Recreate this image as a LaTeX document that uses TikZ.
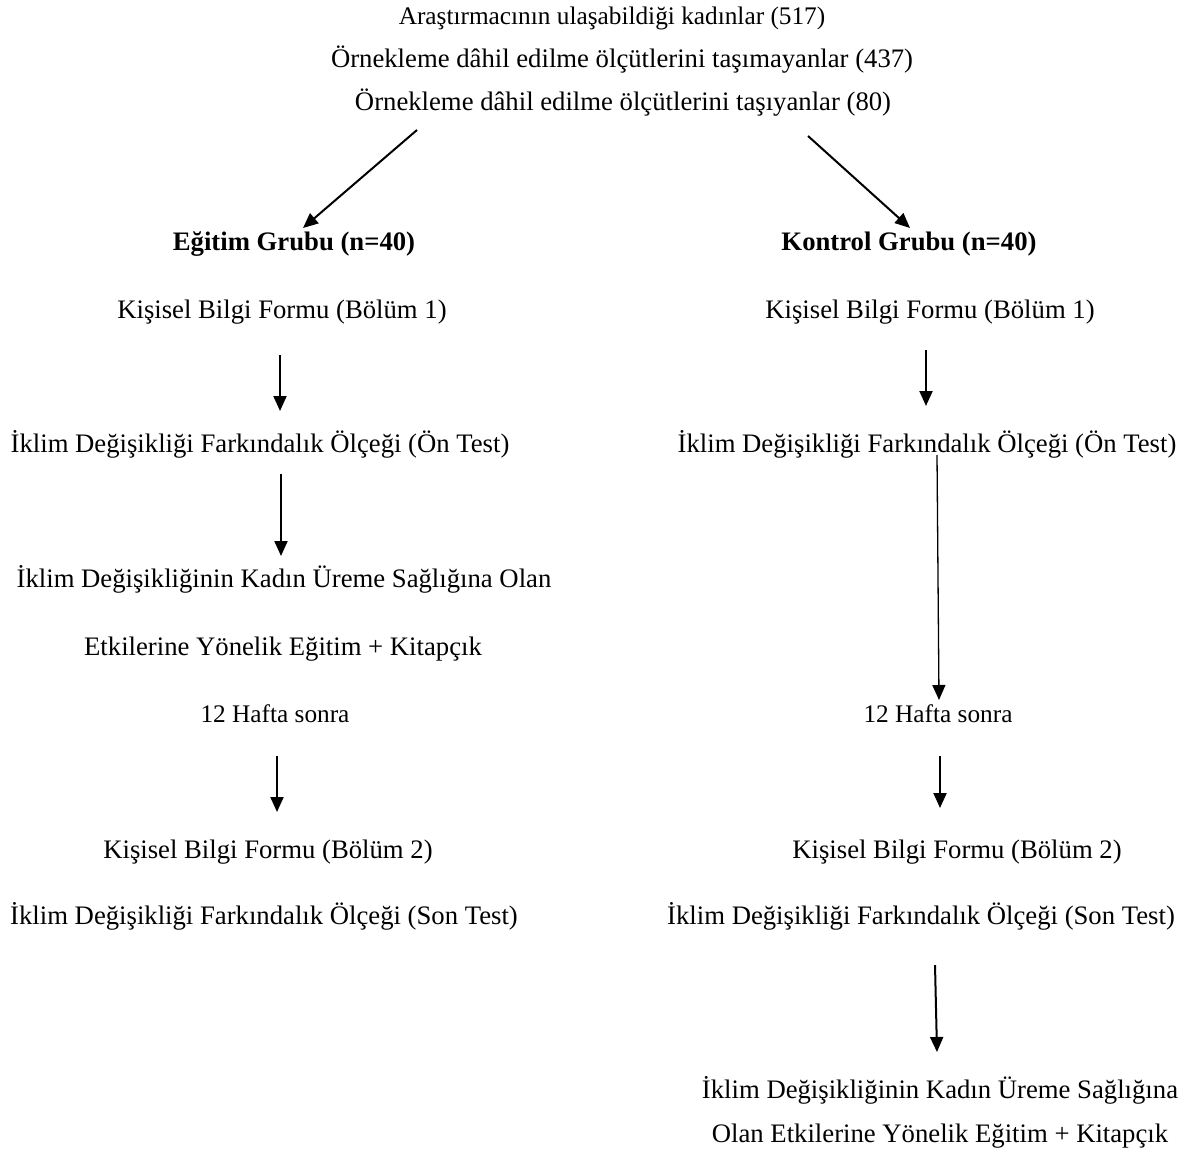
\documentclass[tikz,border=0pt]{standalone}
\usepackage{fontspec}
\setmainfont{Liberation Serif}
\usetikzlibrary{arrows.meta}

\tikzset{
    txt/.style={inner sep=0pt, anchor=base, font=\fontsize{13.35}{15}\selectfont},
    arr/.style={-{Triangle[width=6.5pt, length=7.5pt]}, line width=1pt},
    thinarr/.style={-{Triangle[width=6.5pt, length=7.5pt]}, line width=0.65pt}
}

\begin{document}
\begin{tikzpicture}[x=0.5pt, y=-0.5pt]
    \useasboundingbox (0,0) rectangle (1192,1160);

    % Örneklem
    \node[txt, font=\fontsize{12.65}{15}\selectfont] (top1) at (612,25) {Araştırmacının ulaşabildiği kadınlar (517)};
    \node[txt] (top2) at (622,68) {Örnekleme dâhil edilme ölçütlerini taşımayanlar (437)};
    \node[txt] (top3) at (623,111) {Örnekleme dâhil edilme ölçütlerini taşıyanlar (80)};

    % Eğitim grubu
    \node[txt, font=\fontsize{13.35}{15}\selectfont\bfseries] (grpE) at (294,251) {Eğitim Grubu (n=40)};
    \node[txt] (kbE1) at (282,319) {Kişisel Bilgi Formu (Bölüm 1)};
    \node[txt] (onE) at (260,452) {İklim Değişikliği Farkındalık Ölçeği (Ön Test)};
    \node[txt] (egtE1) at (284,587) {İklim Değişikliğinin Kadın Üreme Sağlığına Olan};
    \node[txt] (egtE2) at (283,655) {Etkilerine Yönelik Eğitim + Kitapçık};
    \node[txt, font=\fontsize{12.65}{15}\selectfont] (hftE) at (275,722) {12 Hafta sonra};
    \node[txt] (kbE2) at (268,858) {Kişisel Bilgi Formu (Bölüm 2)};
    \node[txt] (sonE) at (264,924) {İklim Değişikliği Farkındalık Ölçeği (Son Test)};

    % Kontrol grubu
    \node[txt, font=\fontsize{13.35}{15}\selectfont\bfseries] (grpK) at (909,251) {Kontrol Grubu (n=40)};
    \node[txt] (kbK1) at (930,319) {Kişisel Bilgi Formu (Bölüm 1)};
    \node[txt] (onK) at (927,452) {İklim Değişikliği Farkındalık Ölçeği (Ön Test)};
    \node[txt, font=\fontsize{12.65}{15}\selectfont] (hftK) at (938,722) {12 Hafta sonra};
    \node[txt] (kbK2) at (957,858) {Kişisel Bilgi Formu (Bölüm 2)};
    \node[txt] (sonK) at (921,924) {İklim Değişikliği Farkındalık Ölçeği (Son Test)};
    \node[txt] (egtK1) at (940,1098) {İklim Değişikliğinin Kadın Üreme Sağlığına};
    \node[txt] (egtK2) at (940,1142) {Olan Etkilerine Yönelik Eğitim + Kitapçık};

    % ok uçları
    \coordinate (sE) at (417,130);  \coordinate (eE) at (303,228);
    \coordinate (sK) at (808,136);  \coordinate (eK) at (910,228);
    \coordinate (e1s) at (280,355); \coordinate (e1e) at (280,411);
    \coordinate (e2s) at (281,474); \coordinate (e2e) at (281,556);
    \coordinate (e3s) at (277,756); \coordinate (e3e) at (277,812);
    \coordinate (k1s) at (926,350); \coordinate (k1e) at (926,406);
    \coordinate (k2s) at (937,455); \coordinate (k2e) at (939,700);
    \coordinate (k3s) at (940,756); \coordinate (k3e) at (940,808);
    \coordinate (k4s) at (935,965); \coordinate (k4e) at (937,1052);

    \draw[arr] (sE) -- (eE);
    \draw[arr] (sK) -- (eK);
    \draw[arr] (e1s) -- (e1e);
    \draw[arr] (e2s) -- (e2e);
    \draw[arr] (e3s) -- (e3e);
    \draw[arr] (k1s) -- (k1e);
    \draw[thinarr] (k2s) -- (k2e);
    \draw[arr] (k3s) -- (k3e);
    \draw[arr] (k4s) -- (k4e);
\end{tikzpicture}
\end{document}
